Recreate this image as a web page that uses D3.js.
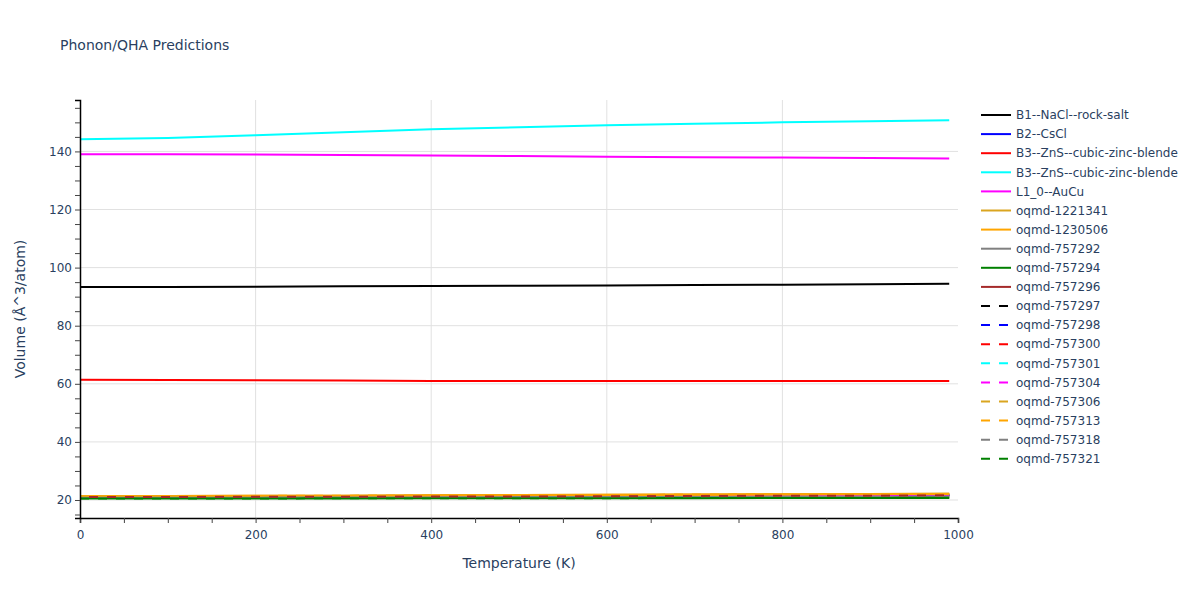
<!DOCTYPE html>
<meta charset="utf-8">
<style>
body { margin: 0; background: #fff; }
text { font-family: "DejaVu Sans", sans-serif; fill: #2a3f5f; }
.grid line { stroke: #e1e1e1; }
</style>

<svg width="1200" height="600"></svg>

<script src="https://d3js.org/d3.v7.min.js"></script>
<script>

var svg = d3.select("svg"),
    margin = {top: 100, right: 242, bottom: 82, left: 80},
    width = 1200 - margin.left - margin.right,
    height = 600 - margin.top - margin.bottom;

// temperaturas (K)
var temps = [0, 100, 200, 300, 400, 500, 600, 700, 800, 900, 990];

// volumes (Å^3/atom)
var b1NaCl      = [93.3, 93.35, 93.45, 93.55, 93.65, 93.75, 93.85, 94.0, 94.1, 94.25, 94.4];
var b2CsCl      = [21.0, 21.0, 21.1, 21.1, 21.2, 21.2, 21.3, 21.4, 21.5, 21.6, 21.7];
var b3ZnS_a     = [61.4, 61.3, 61.2, 61.1, 61.0, 61.0, 61.0, 61.0, 61.0, 61.0, 61.0];
var b3ZnS_b     = [144.2, 144.6, 145.6, 146.6, 147.6, 148.3, 149.0, 149.5, 150.0, 150.4, 150.7];
var l10AuCu     = [139.0, 139.0, 138.9, 138.8, 138.6, 138.4, 138.2, 138.0, 137.9, 137.7, 137.6];
var oqmd1221341 = [21.4, 21.4, 21.5, 21.5, 21.6, 21.7, 21.8, 21.9, 22.0, 22.1, 22.2];
var oqmd1230506 = [21.4, 21.4, 21.5, 21.5, 21.6, 21.7, 21.8, 21.9, 22.0, 22.0, 22.1];
var oqmd757292  = [20.8, 20.8, 20.8, 20.9, 20.9, 21.0, 21.0, 21.0, 21.1, 21.1, 21.2];
var oqmd757294  = [20.5, 20.5, 20.5, 20.5, 20.6, 20.6, 20.6, 20.6, 20.7, 20.7, 20.7];
var oqmd757296  = [21.0, 21.0, 21.1, 21.1, 21.2, 21.2, 21.3, 21.4, 21.5, 21.5, 21.6];
var oqmd757297  = [21.0, 21.0, 21.1, 21.1, 21.2, 21.2, 21.3, 21.4, 21.4, 21.5, 21.6];
var oqmd757298  = [20.9, 20.9, 21.0, 21.0, 21.1, 21.1, 21.2, 21.2, 21.3, 21.4, 21.5];
var oqmd757300  = [21.0, 21.0, 21.1, 21.1, 21.2, 21.2, 21.3, 21.4, 21.5, 21.5, 21.6];
var oqmd757301  = [21.1, 21.1, 21.2, 21.2, 21.3, 21.3, 21.4, 21.5, 21.6, 21.6, 21.7];
var oqmd757304  = [21.0, 21.0, 21.1, 21.1, 21.2, 21.2, 21.3, 21.3, 21.4, 21.5, 21.6];
var oqmd757306  = [21.3, 21.3, 21.4, 21.4, 21.5, 21.6, 21.7, 21.8, 21.9, 22.0, 22.1];
var oqmd757313  = [21.3, 21.3, 21.4, 21.5, 21.5, 21.6, 21.7, 21.8, 21.9, 22.0, 22.1];
var oqmd757318  = [20.8, 20.8, 20.8, 20.9, 20.9, 21.0, 21.0, 21.0, 21.1, 21.1, 21.2];
var oqmd757321  = [20.5, 20.5, 20.5, 20.6, 20.6, 20.6, 20.6, 20.7, 20.7, 20.7, 20.8];

var names = ["B1--NaCl--rock-salt", "B2--CsCl", "B3--ZnS--cubic-zinc-blende",
             "B3--ZnS--cubic-zinc-blende", "L1_0--AuCu", "oqmd-1221341", "oqmd-1230506",
             "oqmd-757292", "oqmd-757294", "oqmd-757296", "oqmd-757297", "oqmd-757298",
             "oqmd-757300", "oqmd-757301", "oqmd-757304", "oqmd-757306", "oqmd-757313",
             "oqmd-757318", "oqmd-757321"];
var values = [b1NaCl, b2CsCl, b3ZnS_a, b3ZnS_b, l10AuCu, oqmd1221341, oqmd1230506,
              oqmd757292, oqmd757294, oqmd757296, oqmd757297, oqmd757298, oqmd757300,
              oqmd757301, oqmd757304, oqmd757306, oqmd757313, oqmd757318, oqmd757321];
var colors = ["black", "blue", "red", "cyan", "magenta", "goldenrod", "orange", "grey",
              "green", "brown", "black", "blue", "red", "cyan", "magenta", "goldenrod",
              "orange", "grey", "green"];
var dashed = [false, false, false, false, false, false, false, false, false, false,
              true, true, true, true, true, true, true, true, true];

var series = names.map((n, i) => ({name: n, values: values[i], color: colors[i], dash: dashed[i]}));

var x = d3.scaleLinear().domain([0, 1000]).range([0, width]);
var y = d3.scaleLinear().domain([13.8, 157.7]).range([height, 0]);

var g = svg.append("g").attr("transform", "translate(" + margin.left + "," + margin.top + ")");

// grade
g.append("g").attr("class", "grid")
  .selectAll("line").data([200, 400, 600, 800]).enter().append("line")
    .attr("x1", d => x(d)).attr("x2", d => x(d)).attr("y1", 0).attr("y2", height);
g.append("g").attr("class", "grid")
  .selectAll("line").data([20, 40, 60, 80, 100, 120, 140]).enter().append("line")
    .attr("x1", 0).attr("x2", width).attr("y1", d => y(d)).attr("y2", d => y(d));

// linhas
var line = d3.line().x((d, i) => x(temps[i])).y(d => y(d));
g.append("g").selectAll("path").data(series).enter().append("path")
    .attr("fill", "none")
    .attr("stroke", d => d.color)
    .attr("stroke-width", 2)
    .attr("stroke-dasharray", d => d.dash ? "9,9" : null)
    .attr("d", d => line(d.values));

// eixos
var xAxis = g.append("g").attr("transform", "translate(0," + height + ")");
xAxis.call(d3.axisBottom(x).tickValues(d3.range(0, 1001, 50)).tickSize(5)
    .tickFormat(d => d % 200 === 0 ? d : ""));
var yAxis = g.append("g");
yAxis.call(d3.axisLeft(y).tickValues(d3.range(15, 156, 5)).tickSize(5)
    .tickFormat(d => d % 20 === 0 ? d : ""));
[xAxis, yAxis].forEach(a => {
  a.select(".domain").attr("stroke", "#000").attr("stroke-width", 1.5);
  a.selectAll(".tick line").attr("stroke", "#444");
  a.selectAll(".tick text").attr("font-size", 12).attr("fill", "#2a3f5f")
    .attr("font-family", '"DejaVu Sans", sans-serif');
});
xAxis.selectAll(".tick text").attr("dy", "1.1em");

// títulos
svg.append("text").attr("x", 60).attr("y", 50).attr("font-size", 14)
    .text("Phonon/QHA Predictions");
svg.append("text").attr("x", margin.left + width / 2).attr("y", 568)
    .attr("text-anchor", "middle").attr("font-size", 14).text("Temperature (K)");
svg.append("text").attr("transform", "translate(25," + (margin.top + height / 2) + ") rotate(-90)")
    .attr("text-anchor", "middle").attr("font-size", 14).text("Volume (Å^3/atom)");

// legenda
var leg = svg.append("g").attr("transform", "translate(981,115)")
  .selectAll("g").data(series).enter().append("g")
    .attr("transform", (d, i) => "translate(0," + i * 19.1 + ")");
leg.append("line").attr("x1", 0).attr("x2", 30)
    .attr("stroke", d => d.color).attr("stroke-width", 2)
    .attr("stroke-dasharray", d => d.dash ? "9,9" : null);
leg.append("text").attr("x", 35).attr("dy", "0.35em").attr("font-size", 12)
    .text(d => d.name);

</script>
